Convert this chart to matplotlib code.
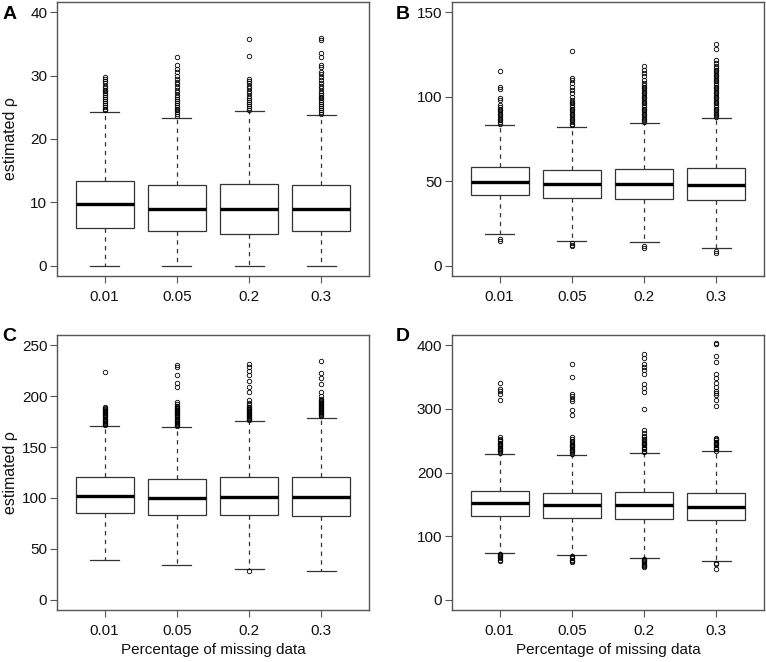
import matplotlib
matplotlib.use("Agg")
import matplotlib.pyplot as plt

plt.rcParams['font.family'] = ['Liberation Sans', 'DejaVu Sans']

categories = ["0.01", "0.05", "0.2", "0.3"]

# Panel A
A_med = [9.74, 8.95, 8.95, 8.95]
A_q1 = [6.0, 5.55, 5.03, 5.55]
A_q3 = [13.3, 12.67, 12.83, 12.77]
A_lo = [0.0, 0.0, 0.0, 0.0]
A_hi = [24.2, 23.35, 24.4, 23.8]
A_fl = [
    [24.5, 24.8, 25.1, 25.4, 25.7, 26.0, 26.3, 26.6, 26.9, 27.2, 27.5, 27.8, 28.1, 28.4, 28.8, 29.2, 29.5, 29.8],
    [23.6, 23.9, 24.2, 24.5, 24.8, 25.1, 25.4, 25.7, 26.0, 26.3, 26.6, 27.0, 27.4, 27.8, 28.2, 28.6, 29.0, 29.4,
     30.0, 30.5, 31.0, 31.6, 32.9],
    [24.6, 24.9, 25.2, 25.5, 25.8, 26.1, 26.4, 26.8, 27.2, 27.6, 28.0, 28.4, 28.8, 29.1, 29.4, 33.1, 35.7],
    [24.0, 24.3, 24.6, 24.9, 25.2, 25.5, 25.8, 26.1, 26.4, 26.7, 27.0, 27.3, 27.6, 28.0, 28.4, 28.8, 29.3, 29.8,
     30.2, 30.6, 31.4, 31.6, 33.0, 33.6, 35.6, 35.9],
]

# Panel B
B_med = [49.7, 48.3, 48.5, 47.7]
B_q1 = [41.6, 39.9, 39.7, 38.7]
B_q3 = [58.3, 56.9, 57.5, 57.9]
B_lo = [18.85, 14.9, 13.9, 10.8]
B_hi = [83.1, 82.3, 84.2, 87.2]
B_fl = [
    [14.5, 16.0, 84, 85, 86, 87, 88, 89, 90, 91, 92, 93, 94, 95, 98, 99.4, 104.7, 106, 115],
    [11.6, 12.5, 13.5, 83, 84, 85, 86, 87, 88, 89, 90, 91, 92, 93, 94, 95, 96, 97, 98, 100, 102, 103.9,
     106, 108, 109.8, 111, 127],
    [10.8, 12, 85, 86, 87, 88, 89, 90, 91, 92, 93, 94, 95, 96, 97, 98, 99, 100, 101, 102, 103, 104, 105,
     106, 107, 108, 110, 112, 114, 116, 118],
    [7.7, 9.0, 88, 89, 90, 91, 92, 93, 94, 95, 96, 97, 98, 99, 100, 101, 102, 103, 104, 105, 106, 107, 108,
     109, 110, 111, 112, 113, 114, 115, 116, 117, 118, 120, 121.5, 128, 131],
]

# Panel C
C_med = [101.9, 99.9, 100.9, 100.6]
C_q1 = [85.5, 83.6, 83.6, 82.2]
C_q3 = [120.2, 118.3, 120.6, 120.9]
C_lo = [39.0, 34.1, 30.1, 28.5]
C_hi = [171.0, 169.7, 175.6, 178.9]
C_fl = [
    [172, 173, 174, 175, 176, 177, 178, 179, 180, 181, 182, 183, 184, 185, 186, 187, 188, 189, 223.8],
    [171, 172, 173, 174, 175, 176, 177, 178, 179, 180, 181, 182, 183, 184, 185, 186, 187, 188, 189, 190,
     192, 194, 209, 213, 220.5, 228.4, 231],
    [28.2, 176.5, 177.5, 178.5, 179.5, 180.5, 181.5, 182.5, 183.5, 184.5, 185.5, 186.5, 187.5, 188.5,
     189.5, 191, 193, 196, 204, 209, 215, 221, 225, 228.4, 231.7],
    [180, 181, 182, 183, 184, 185, 186, 187, 188, 189, 190, 191, 192, 193, 194, 195, 196, 197, 200, 204,
     212, 218, 223, 234],
]

# Panel D
D_med = [151.5, 148.9, 148.9, 146.3]
D_q1 = [131.1, 128.4, 127.4, 124.8]
D_q3 = [170.4, 168.3, 169.3, 167.8]
D_lo = [73.4, 70.2, 65.5, 60.3]
D_hi = [229.6, 228.0, 231.2, 233.3]
D_fl = [
    [61, 63, 65, 67, 69, 71, 72.5, 231, 233, 235, 237, 239, 241, 243, 245, 247, 249, 251, 253, 255,
     314, 324, 327.6, 331.8, 340.8],
    [59, 61, 63, 65, 67, 69, 229.5, 231.5, 233.5, 235.5, 237.5, 239.5, 241.5, 243.5, 245.5, 247.5, 250,
     252.5, 255.8, 290, 297.8, 311.8, 316, 319.6, 324, 350, 371],
    [51.4, 53, 55, 57, 59, 61, 63, 64.5, 232.5, 234.5, 236.5, 238.5, 240.5, 242.5, 244.5, 246.5, 248.5,
     250.5, 252.5, 255, 258, 262, 267.4, 300.4, 326.6, 332.9, 339.7, 355.3, 360.5, 365.8, 371, 380, 385.8],
    [48.8, 56.6, 58.5, 234.5, 236.5, 238.5, 240.5, 242.5, 244.5, 246.5, 248.5, 250.5, 252.5, 254,
     304, 313.5, 321.4, 325, 328.1, 334.5, 340.8, 349, 355.3, 373.3, 382.7, 401.6, 404.2],
]

panels = [
    ("A", A_med, A_q1, A_q3, A_lo, A_hi, A_fl, 40, [0, 10, 20, 30, 40]),
    ("B", B_med, B_q1, B_q3, B_lo, B_hi, B_fl, 150, [0, 50, 100, 150]),
    ("C", C_med, C_q1, C_q3, C_lo, C_hi, C_fl, 250, [0, 50, 100, 150, 200, 250]),
    ("D", D_med, D_q1, D_q3, D_lo, D_hi, D_fl, 400, [0, 100, 200, 300, 400]),
]

W, H = 766, 662
fig = plt.figure(figsize=(W / 100, H / 100), dpi=100)

# axes rectangles in pixels: left, top, right, bottom
rects = [(57, 2, 369, 276), (452, 2, 764, 276), (57, 335, 369, 610), (452, 335, 764, 610)]
label_pos = [(3, 19), (396, 19), (2, 341), (396, 341)]

axis_col = "#555555"
box_col = "#333333"

for (name, med, q1, q3, lo, hi, fl, ymax, yt), (l, t, r, b), (lx, ly) in zip(panels, rects, label_pos):
    ax = fig.add_axes([l / W, 1 - b / H, (r - l) / W, (b - t) / H])
    stats = []
    for i in range(4):
        stats.append(dict(med=med[i], q1=q1[i], q3=q3[i], whislo=lo[i], whishi=hi[i], fliers=fl[i]))
    ax.bxp(stats, positions=[1, 2, 3, 4], widths=0.8, showfliers=True, patch_artist=True,
           boxprops=dict(facecolor="white", edgecolor=box_col, linewidth=0.9),
           medianprops=dict(color="black", linewidth=2.4, solid_capstyle="butt"),
           whiskerprops=dict(color=box_col, linewidth=0.9, linestyle=(0, (3.5, 3.5))),
           capprops=dict(color=box_col, linewidth=0.9),
           capwidths=0.4,
           flierprops=dict(marker="o", markersize=3.2, markerfacecolor="none",
                           markeredgecolor="black", markeredgewidth=0.6, linestyle="none"))
    pad = 0.04 * ymax
    ax.set_ylim(-pad, ymax + pad)
    ax.set_xlim(0.5 - 0.16, 4.5 + 0.16)
    ax.set_yticks(yt)
    ax.set_xticks([1, 2, 3, 4])
    ax.set_xticklabels(categories)
    for s in ax.spines.values():
        s.set_color(axis_col)
        s.set_linewidth(1.0)
    ax.tick_params(axis="both", direction="out", length=5, width=0.8, color=axis_col,
                   labelsize=11, labelcolor="#111111")
    ax.tick_params(axis="y", pad=2)
    ax.tick_params(axis="x", pad=5)
    if name in ("A", "C"):
        ax.set_ylabel("estimated ρ", fontsize=11.5, color="#111111")
        ax.yaxis.set_label_coords((18 - l) / (r - l), 0.5)
    if name in ("C", "D"):
        ax.set_xlabel("Percentage of missing data", fontsize=11, labelpad=4, color="#111111")
    fig.text(lx / W, 1 - ly / H, name, fontsize=14, fontweight="bold", ha="left", va="baseline")

fig.savefig("out.png", dpi=100)
